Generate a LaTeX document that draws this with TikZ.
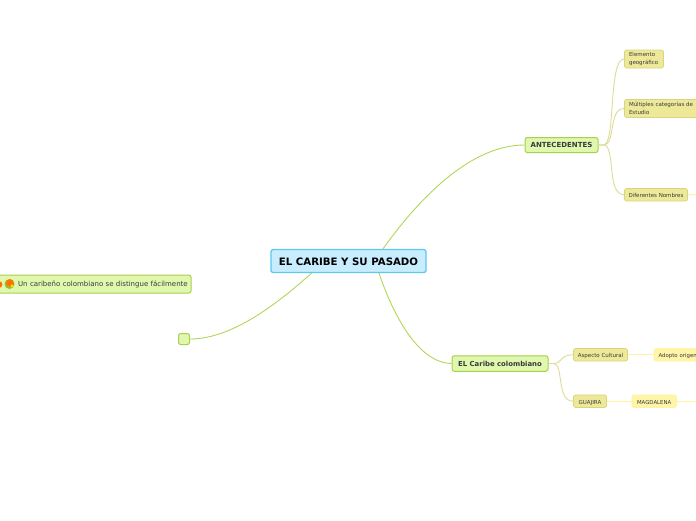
\documentclass[tikz,border=0pt]{standalone}
\usepackage{fontspec}
\setmainfont{DejaVu Sans}
\usetikzlibrary{calc}
\definecolor{rootfill}{HTML}{C8EDFF}
\definecolor{rootline}{HTML}{5FC6EE}
\definecolor{greenfill}{HTML}{DFF8AE}
\definecolor{greenline}{HTML}{A8D050}
\definecolor{olivefill}{HTML}{EDE998}
\definecolor{oliveline}{HTML}{D8D480}
\definecolor{yellowfill}{HTML}{FFF5A8}
\definecolor{yellowline}{HTML}{FFF2A0}
\definecolor{inktext}{HTML}{3A3A3A}
\definecolor{linkgreen}{HTML}{B2D558}
\definecolor{linkolive}{HTML}{DCDC95}
\definecolor{linkyellow}{HTML}{FFF3A0}
\tikzset{
  box/.style={rounded corners=2.2pt,inner sep=0pt,text=inktext,anchor=center},
  rootbox/.style={box,draw=rootline,fill=rootfill,line width=1.3pt,text=black,font=\fontsize{10.2}{12}\selectfont\bfseries,text height=9.4pt,text depth=0pt},
  mainbox/.style={box,draw=greenline,fill=greenfill,line width=1pt},
  leftbox/.style={box,draw=greenline,fill=greenfill,line width=1pt,font=\fontsize{7}{9}\selectfont},
  olivebox/.style={box,draw=oliveline,fill=olivefill,line width=.8pt,font=\fontsize{5.5}{7.6}\selectfont,align=left},
  yellowbox/.style={box,draw=yellowline,fill=yellowfill,line width=.8pt,font=\fontsize{5.4}{7}\selectfont},
  lowtext/.style={text height=5.6pt,text depth=0pt},
  linkg/.style={draw=linkgreen,line width=.9pt},
  linko/.style={draw=linkolive,line width=.9pt},
  linky/.style={draw=linkyellow,line width=1pt}
}
\begin{document}
\begin{tikzpicture}[x=1pt,y=-1pt]
\useasboundingbox (0,0) rectangle (696,520);
\clip (0,0) rectangle (696,520);
\node[rootbox,minimum width=155pt,minimum height=23pt] (root) at (348.5,261) {EL CARIBE Y SU PASADO};
\node[mainbox,minimum width=73pt,minimum height=15pt,font=\fontsize{7}{8}\selectfont\bfseries] (ante) at (561.5,145) {ANTECEDENTES};
\node[mainbox,minimum width=96pt,minimum height=15.5pt,font=\fontsize{6.9}{8}\selectfont\bfseries,text height=6.2pt,text depth=0pt] (caribe) at (500,363.5) {EL Caribe colombiano};
\node[leftbox,minimum width=203pt,minimum height=18pt,text width=196.5pt,align=right] (left) at (89.5,284) {Un caribeño colombiano se distingue fácilmente};
\node[mainbox,minimum width=11pt,minimum height=11pt] (blank) at (184,339) {};
\node[olivebox,minimum width=39pt,minimum height=18pt,text width=30pt] (geo) at (644,59) {Elemento\\geográfico};
\node[olivebox,minimum width=76pt,minimum height=18pt,text width=67pt] (multi) at (662.5,108.5) {Múltiples categorías de\\Estudio};
\node[olivebox,lowtext,minimum width=63pt,minimum height=12.5pt,align=center] (nombres) at (656,194.8) {Diferentes Nombres};
\node[olivebox,lowtext,minimum width=54pt,minimum height=12.5pt,align=center] (aspecto) at (600.5,354.8) {Aspecto Cultural};
\node[olivebox,lowtext,minimum width=33pt,minimum height=12.5pt,align=center] (guajira) at (590,401.2) {GUAJIRA};
\node[yellowbox,lowtext,minimum width=60pt,minimum height=12.5pt,anchor=west,text width=51pt,align=left] (adopto) at (653.7,354.8) {Adopto origen};
\node[yellowbox,lowtext,minimum width=44.5pt,minimum height=12.5pt] (magda) at (654.2,401.2) {MAGDALENA};
\coordinate (endnombres) at (696,194.5);
\coordinate (endmagda) at (696,401.2);
% connectors
\draw[linkg] ($(root.north)+(34.5,0)$) .. controls (425,190) and (475,145) .. (ante.west);
\draw[linkg] ($(root.south)+(30.5,0)$) .. controls (395,320) and (420,363) .. (caribe.west);
\draw[linkg] ($(root.south)+(-37,0)$) .. controls (265,315) and (225,339) .. (blank.east);
\draw[linko] (ante.east) -- ++(5,0) .. controls (616,145) and (608,59) .. (geo.west);
\draw[linko] (ante.east) -- ++(5,0) .. controls (616,145) and (608,108.5) .. (multi.west);
\draw[linko] (ante.east) -- ++(5,0) .. controls (616,145) and (606,194.8) .. (nombres.west);
\draw[linko] (caribe.east) -- ++(5,0) .. controls (562,363.5) and (560,354.8) .. (aspecto.west);
\draw[linko] (caribe.east) -- ++(5,0) .. controls (564,363.5) and (556,401.2) .. (guajira.west);
\draw[linky] (nombres.east) -- (endnombres);
\draw[linky] (aspecto.east) -- (adopto.west);
\draw[linky] (guajira.east) -- (magda.west);
\draw[linky] (magda.east) -- (endmagda);
% fruit icons
\fill[orange!85!red] (-1,284.5) circle (3.4pt);
\fill[yellow!70!green!80!black] (9.5,284) circle (5pt);
\fill[orange!90!red] (10,283) circle (3.8pt);
\fill[yellow!85!orange] (12,286) circle (1.6pt);
\end{tikzpicture}
\end{document}
